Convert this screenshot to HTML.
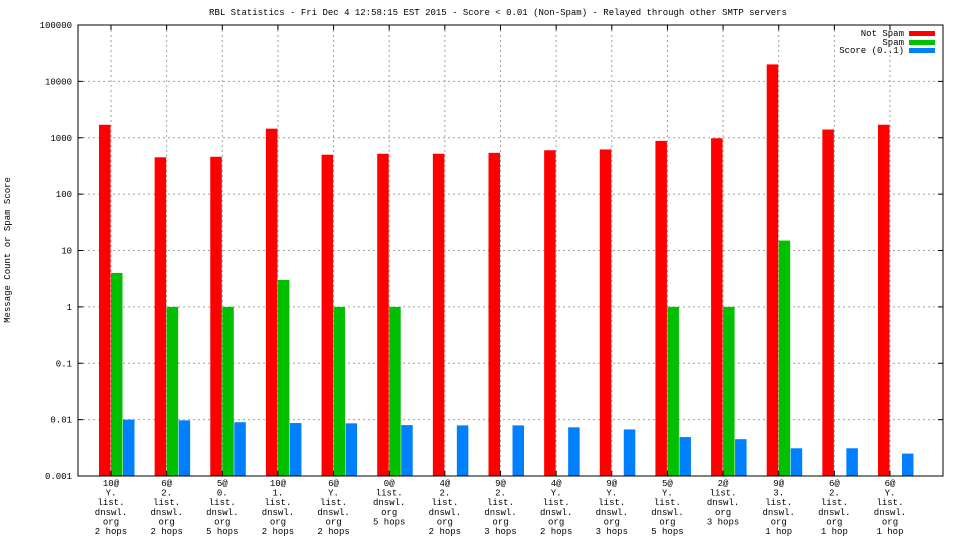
<!DOCTYPE html>
<html><head><meta charset="utf-8"><style>
body{margin:0;background:#fff}
svg{display:block}
text{font-family:"Liberation Mono",monospace;font-size:9px;fill:#000}
</style></head><body>
<svg id="c" width="960" height="540">
<text x="498" y="15" text-anchor="middle">RBL Statistics - Fri Dec  4 12:58:15 EST 2015 - Score &lt; 0.01 (Non-Spam) - Relayed through other SMTP servers</text>
<text transform="translate(10,250) rotate(-90)" text-anchor="middle">Message Count or Spam Score</text>
<g id="grid"></g><g id="bars"></g><g id="axes"></g>
<g>
<text x="904" y="36" text-anchor="end">Not Spam</text>
<rect x="909" y="31" width="26" height="5" fill="#ff0000"/>
<text x="904" y="45" text-anchor="end">Spam</text>
<rect x="909" y="40" width="26" height="5" fill="#00c000"/>
<text x="904" y="53" text-anchor="end">Score (0..1)</text>
<rect x="909" y="48" width="26" height="5" fill="#0080ff"/>
</g>
</svg>
<script>
const categories=[["10@","Y.","list.","dnswl.","org","2 hops"],["6@","2.","list.","dnswl.","org","2 hops"],["5@","0.","list.","dnswl.","org","5 hops"],["10@","1.","list.","dnswl.","org","2 hops"],["6@","Y.","list.","dnswl.","org","2 hops"],["0@","list.","dnswl.","org","5 hops"],["4@","2.","list.","dnswl.","org","2 hops"],["9@","2.","list.","dnswl.","org","3 hops"],["4@","Y.","list.","dnswl.","org","2 hops"],["9@","Y.","list.","dnswl.","org","3 hops"],["5@","Y.","list.","dnswl.","org","5 hops"],["2@","list.","dnswl.","org","3 hops"],["9@","3.","list.","dnswl.","org","1 hop"],["6@","2.","list.","dnswl.","org","1 hop"],["6@","Y.","list.","dnswl.","org","1 hop"]];
const notSpam=[1700,450,460,1450,500,520,520,540,600,620,880,980,20000,1400,1700];
const spam=[4,1,1,3,1,1,0,0,0,0,1,1,15,0,0];
const score=[0.0100,0.0097,0.0090,0.0087,0.0086,0.0080,0.0079,0.0079,0.0073,0.0067,0.0049,0.0045,0.0031,0.0031,0.0025];
const yTicks=[0.001,0.01,0.1,1,10,100,1000,10000,100000];
const yTickLabels=["0.001","0.01","0.1","1","10","100","1000","10000","100000"];
const NS="http://www.w3.org/2000/svg";
const L=78,R=943,T=25,B=476;
function y(v){return B-(Math.log10(v)+3)/8*(B-T);}
function xc(i){return 111+i*(890-111)/(categories.length-1);}
function mk(tag,attrs,parent){const e=document.createElementNS(NS,tag);for(const k in attrs)e.setAttribute(k,attrs[k]);document.getElementById(parent).appendChild(e);return e;}
yTicks.forEach((v,i)=>{
  const g=mk('line',{x1:L,x2:R,y1:y(v),y2:y(v),stroke:'#a0a0a0','stroke-dasharray':'2,3'},'grid');
  
  
  const t=mk('text',{x:L-6,y:y(v)+3,'text-anchor':'end'},'axes');t.textContent=yTickLabels[i];
  
  
  mk('line',{x1:L,x2:L+5,y1:y(v),y2:y(v),stroke:'#000'},'axes');
  mk('line',{x1:R,x2:R-5,y1:y(v),y2:y(v),stroke:'#000'},'axes');
});
categories.forEach((c,i)=>{
  const x=xc(i);
  const g=mk('line',{x1:x,x2:x,y1:T,y2:B,stroke:'#a0a0a0','stroke-dasharray':'2,3'},'grid');
  
  
  mk('line',{x1:x,x2:x,y1:B,y2:B-5,stroke:'#000'},'axes');
  mk('line',{x1:x,x2:x,y1:T,y2:T+5,stroke:'#000'},'axes');
  c.forEach((s,j)=>{const t=mk('text',{x:x,y:486+j*9.6,'text-anchor':'middle'},'axes');t.textContent=s;
    
    });
  [[notSpam,'#ff0000',-12,'bar-not-spam'],[spam,'#00c000',0,'bar-spam'],[score,'#0080ff',12,'bar-score']].forEach(([arr,col,off,nm])=>{
    const v=arr[i];if(!(v>0))return;
    const yy=y(v);
    const r=mk('rect',{x:x+off,y:yy,width:11.5,height:B-yy,fill:col},'bars');
    
    
  });
});
const f=mk('rect',{x:L,y:T,width:R-L,height:B-T,fill:'none',stroke:'#000'},'axes');


</script>
</body></html>
